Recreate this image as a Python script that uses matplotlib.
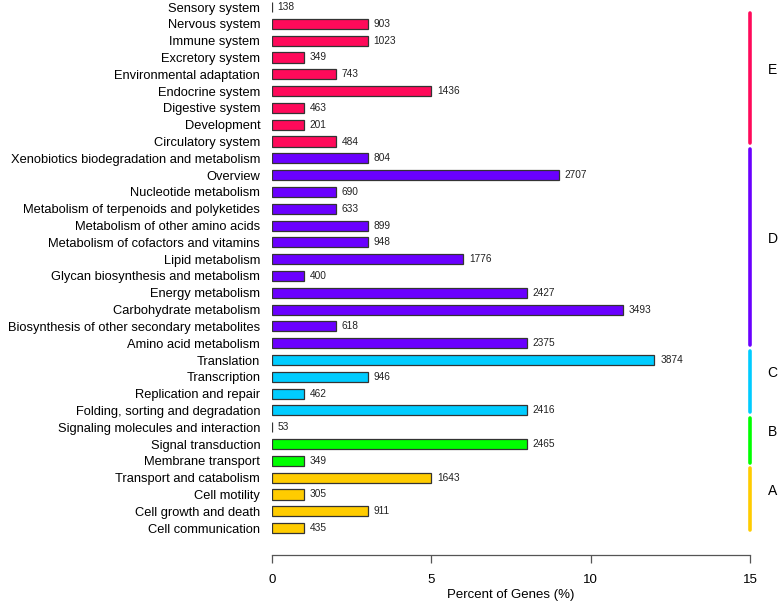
import matplotlib
matplotlib.use('Agg')
import matplotlib.pyplot as plt

plt.rcParams['font.family'] = ['Liberation Sans', 'DejaVu Sans']

# categories listed top to bottom as in the chart
categories = [
    'Sensory system', 'Nervous system', 'Immune system', 'Excretory system',
    'Environmental adaptation', 'Endocrine system', 'Digestive system',
    'Development', 'Circulatory system',
    'Xenobiotics biodegradation and metabolism', 'Overview',
    'Nucleotide metabolism', 'Metabolism of terpenoids and polyketides',
    'Metabolism of other amino acids', 'Metabolism of cofactors and vitamins',
    'Lipid metabolism', 'Glycan biosynthesis and metabolism',
    'Energy metabolism', 'Carbohydrate metabolism',
    'Biosynthesis of other secondary metabolites', 'Amino acid metabolism',
    'Translation', 'Transcription', 'Replication and repair',
    'Folding, sorting and degradation',
    'Signaling molecules and interaction', 'Signal transduction',
    'Membrane transport',
    'Transport and catabolism', 'Cell motility', 'Cell growth and death',
    'Cell communication',
]
gene_counts = [138, 903, 1023, 349, 743, 1436, 463, 201, 484,
               804, 2707, 690, 633, 899, 948, 1776, 400, 2427, 3493, 618, 2375,
               3874, 946, 462, 2416,
               53, 2465, 349,
               1643, 305, 911, 435]
percent = [0, 3, 3, 1, 2, 5, 1, 1, 2,
           3, 9, 2, 2, 3, 3, 6, 1, 8, 11, 2, 8,
           12, 3, 1, 8,
           0, 8, 1,
           5, 1, 3, 1]
group_names = ['E', 'D', 'C', 'B', 'A']
group_sizes = [9, 12, 4, 3, 4]
group_colors = ['#FF0A5A', '#6A00FF', '#00CCFF', '#00FF00', '#FFCC00']

fig = plt.figure(figsize=(7.78, 6.04), dpi=100)
ax = fig.add_axes([272 / 778, 1 - 555 / 604, 478 / 778, 555 / 604])

bar_colors = []
for name, size, col in zip(group_names, group_sizes, group_colors):
    bar_colors += [col] * size

rows = list(range(len(categories)))
ax.barh(rows, percent, height=0.6, color=bar_colors, edgecolor='#333333',
        linewidth=0.9)
for r, p, c in zip(rows, percent, gene_counts):
    ax.text(p + 0.18, r, str(c), va='center', ha='left', fontsize=7.3,
            color='#222222')

# group brackets on the right
start = 0
for name, size, col in zip(group_names, group_sizes, group_colors):
    top = max(start - 0.55, 0.35)
    bottom = start + size - 1 + 0.1
    ax.plot([15, 15], [top, bottom], color=col, linewidth=2.6,
            solid_capstyle='round', clip_on=False)
    ax.text(15.55, (top + bottom) / 2 - 0.5, name, fontsize=10,
            va='center', ha='left')
    start += size

ax.set_xlim(0, 15)
ax.set_ylim(32.6, -0.42)
ax.set_yticks(rows)
ax.set_yticklabels(categories, fontsize=9.3)
ax.tick_params(axis='y', length=0, pad=8.5)
ax.set_xticks([0, 5, 10, 15])
ax.tick_params(axis='x', length=6, width=0.9, color='#555555',
               labelsize=9.5, pad=8)
ax.set_xlabel('Percent of Genes (%)', fontsize=9.5, labelpad=2)

for side in ['top', 'right', 'left']:
    ax.spines[side].set_visible(False)
ax.spines['bottom'].set_color('#555555')
ax.spines['bottom'].set_linewidth(0.9)

fig.savefig('out.png', dpi=100)
